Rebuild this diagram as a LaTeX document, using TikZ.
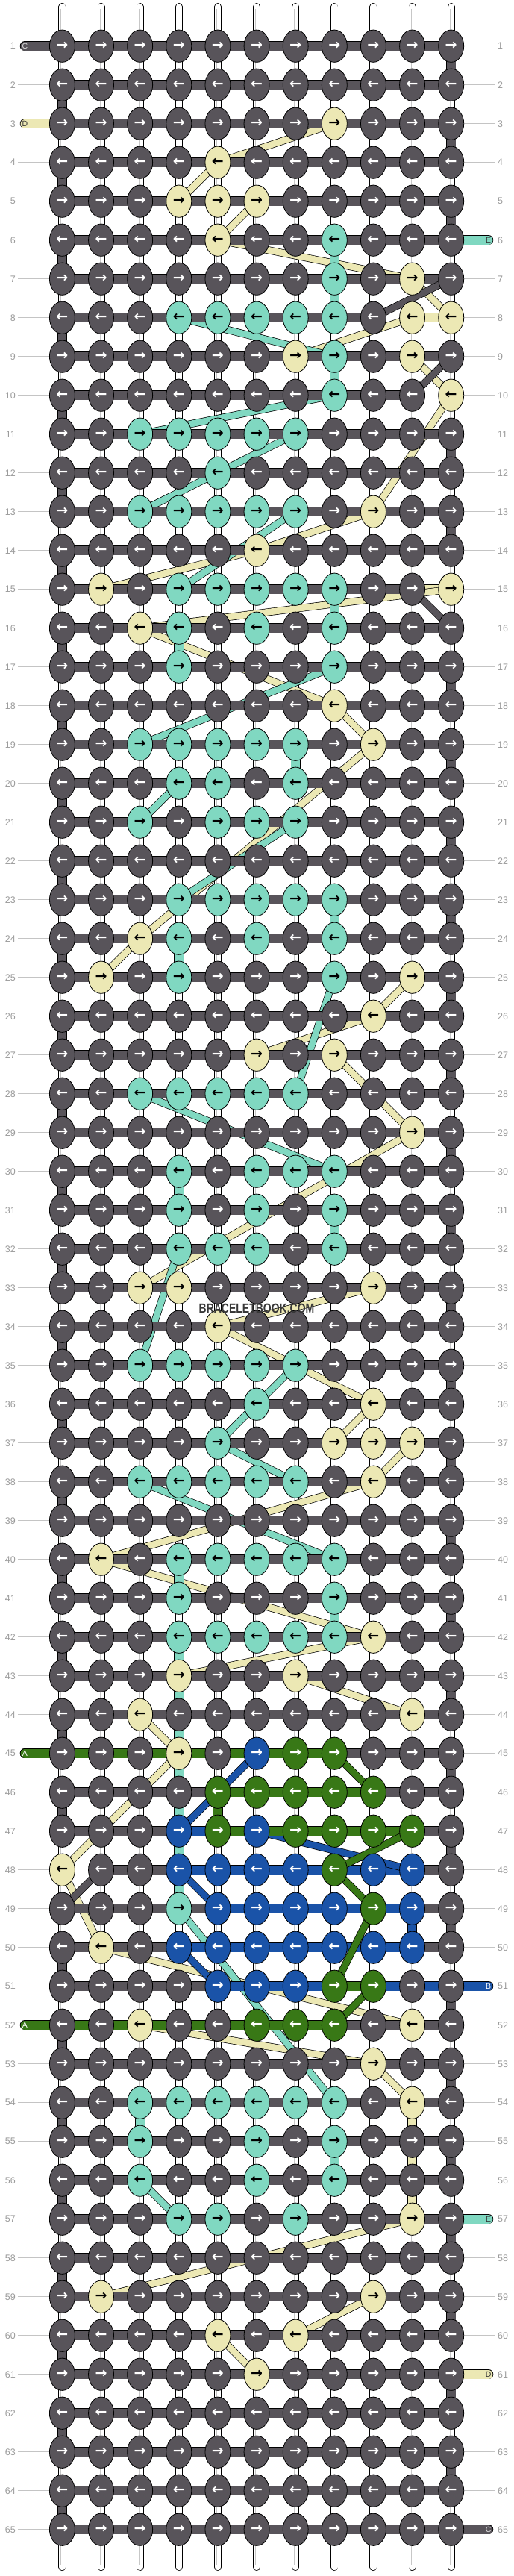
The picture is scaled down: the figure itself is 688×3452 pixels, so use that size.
\documentclass[tikz,border=0pt]{standalone}
\usepackage{fontspec}
\setmainfont{Liberation Sans}
\newfontfamily\arrfont{DejaVu Sans}
\newfontfamily\wmfont{Liberation Sans}[FakeStretch=0.79]
\usetikzlibrary{shapes.geometric}
\definecolor{cG}{HTML}{58545A}
\definecolor{cY}{HTML}{ECE8B4}
\definecolor{cT}{HTML}{80D8C1}
\definecolor{cB}{HTML}{1A53A8}
\definecolor{cN}{HTML}{387816}
\colorlet{aG}{white}
\colorlet{aY}{black}
\colorlet{aT}{black}
\colorlet{aB}{white}
\colorlet{aN}{white}
\definecolor{labgray}{HTML}{9C9C9C}
\definecolor{lingray}{HTML}{C4C4C4}
\definecolor{wmgray}{HTML}{383838}
\pgfdeclarelayer{bgzero}
\pgfdeclarelayer{thrD}
\pgfdeclarelayer{thrE}
\pgfdeclarelayer{thrC}
\pgfdeclarelayer{thrB}
\pgfdeclarelayer{thrA}
\pgfsetlayers{bgzero,thrD,thrE,thrC,thrB,thrA,main}
\tikzset{
  knot/.style={ellipse, draw=black, line width=0.8pt, minimum width=34pt, minimum height=43.3pt, inner sep=0pt, font=\arrfont\bfseries\fontsize{19}{19}\selectfont},
  sthr/.style={draw=black, line width=0.8pt, double=#1, double distance=11.7pt},
  dthr/.style={draw=black, line width=0.7pt, double=#1, double distance=8.6pt},
  stubline/.style={draw=black, line width=0.8pt, double=#1, double distance=11.7pt, line cap=round},
  basestr/.style={draw=black, line width=0.8pt, double=white, double distance=8.4pt, line cap=round},
  innerstr/.style={draw=black!22, line width=0.7pt},
  lab/.style={text=labgray, font=\fontsize{12.5}{12.5}\selectfont, inner sep=0pt},
  labline/.style={draw=lingray, line width=0.9pt},
  stubtxt/.style={font=\fontsize{10.5}{10.5}\selectfont, inner sep=0pt},
  wm/.style={font=\wmfont\bfseries\fontsize{17.7}{17.7}\selectfont, text=wmgray, inner sep=0pt},
}
\begin{document}
\begin{tikzpicture}[x=1pt,y=-1pt]
\useasboundingbox (0,0) rectangle (688,3452);
\begin{pgfonlayer}{bgzero}
\fill[white] (0,0) rectangle (688,3452);
\end{pgfonlayer}
% ---------------- knots and row numbers
\foreach \r/\cl in {
1/{G,G,G,G,G,G,G,G,G,G,G},
2/{G,G,G,G,G,G,G,G,G,G,G},
3/{G,G,G,G,G,G,G,Y,G,G,G},
4/{G,G,G,G,Y,G,G,G,G,G,G},
5/{G,G,G,Y,Y,Y,G,G,G,G,G},
6/{G,G,G,G,Y,G,G,T,G,G,G},
7/{G,G,G,G,G,G,G,T,G,Y,G},
8/{G,G,G,T,T,T,T,T,G,Y,Y},
9/{G,G,G,G,G,G,Y,T,G,Y,G},
10/{G,G,G,G,G,G,G,T,G,G,Y},
11/{G,G,T,T,T,T,T,G,G,G,G},
12/{G,G,G,G,T,G,G,G,G,G,G},
13/{G,G,T,T,T,T,T,G,Y,G,G},
14/{G,G,G,G,G,Y,G,G,G,G,G},
15/{G,Y,G,T,T,T,T,T,G,G,Y},
16/{G,G,Y,T,G,T,G,T,G,G,G},
17/{G,G,G,T,G,G,G,T,G,G,G},
18/{G,G,G,G,G,G,G,Y,G,G,G},
19/{G,G,T,T,T,T,T,G,Y,G,G},
20/{G,G,G,T,T,G,T,G,G,G,G},
21/{G,G,T,G,T,T,T,G,G,G,G},
22/{G,G,G,G,G,G,G,G,G,G,G},
23/{G,G,G,T,T,T,T,T,G,G,G},
24/{G,G,Y,T,G,T,G,T,G,G,G},
25/{G,Y,G,T,G,G,G,T,G,Y,G},
26/{G,G,G,G,G,G,G,G,Y,G,G},
27/{G,G,G,G,G,Y,G,Y,G,G,G},
28/{G,G,T,T,T,T,T,G,G,G,G},
29/{G,G,G,G,G,G,G,G,G,Y,G},
30/{G,G,G,T,G,T,T,T,G,G,G},
31/{G,G,G,T,G,T,G,T,G,G,G},
32/{G,G,G,T,T,T,G,T,G,G,G},
33/{G,G,Y,Y,G,G,G,G,Y,G,G},
34/{G,G,G,G,Y,G,G,G,G,G,G},
35/{G,G,T,T,T,T,T,G,G,G,G},
36/{G,G,G,G,G,T,G,G,Y,G,G},
37/{G,G,G,G,T,G,G,Y,Y,Y,G},
38/{G,G,T,T,T,T,T,G,Y,G,G},
39/{G,G,G,G,G,G,G,G,G,G,G},
40/{G,Y,G,T,T,T,T,T,G,G,G},
41/{G,G,G,T,G,G,G,T,G,G,G},
42/{G,G,G,T,T,T,T,T,Y,G,G},
43/{G,G,G,Y,G,G,Y,G,G,G,G},
44/{G,G,Y,G,G,G,G,G,G,Y,G},
45/{G,G,G,Y,G,B,N,N,G,G,G},
46/{G,G,G,G,N,N,N,N,N,G,G},
47/{G,G,G,B,N,B,N,N,N,N,G},
48/{Y,G,G,B,B,B,B,N,B,B,G},
49/{G,G,G,T,B,B,B,B,N,B,G},
50/{G,Y,G,B,B,B,B,B,B,B,G},
51/{G,G,G,G,B,B,B,N,N,G,G},
52/{G,G,Y,G,G,N,N,N,G,Y,G},
53/{G,G,G,G,G,G,G,G,Y,G,G},
54/{G,G,T,T,T,T,T,T,G,Y,G},
55/{G,G,T,G,G,T,G,T,G,G,G},
56/{G,G,T,G,G,T,G,T,G,G,G},
57/{G,G,G,T,T,G,T,G,G,Y,G},
58/{G,G,G,G,G,G,G,G,G,G,G},
59/{G,Y,G,G,G,G,G,G,Y,G,G},
60/{G,G,G,G,Y,G,Y,G,G,G,G},
61/{G,G,G,G,G,Y,G,G,G,G,G},
62/{G,G,G,G,G,G,G,G,G,G,G},
63/{G,G,G,G,G,G,G,G,G,G,G},
64/{G,G,G,G,G,G,G,G,G,G,G},
65/{G,G,G,G,G,G,G,G,G,G,G}}{
  \pgfmathsetmacro\yy{61.7+52*(\r-1)}
  \foreach \cc [count=\i] in \cl {
    \pgfmathsetmacro\xx{83.4+52.13*(\i-1)}
    \node[knot, fill=c\cc, text=a\cc] (k-\r-\i) at (\xx,\yy) {\ifodd\r\relax →\else ←\fi};
  }
  \node[lab, anchor=east] (ln-\r) at (21,\yy) {\r};
  \node[lab, anchor=west] (rn-\r) at (667,\yy) {\r};
  \coordinate (ll-\r) at (24,\yy);
  \coordinate (rl-\r) at (664,\yy);
}
% ---------------- stub ends
\coordinate (sC1) at (33.4,61.7);
\coordinate (sD3) at (33.4,165.7);
\coordinate (sA45) at (33.4,2349.7);
\coordinate (sB45) at (33.4,2349.7);
\coordinate (sA52) at (33.4,2713.7);
\coordinate (sE6) at (654.6,321.7);
\coordinate (sB51) at (654.6,2661.7);
\coordinate (sE57) at (654.6,2973.7);
\coordinate (sD61) at (654.6,3181.7);
\coordinate (sC65) at (654.6,3389.7);
% ---------------- base strings and row lines
\begin{pgfonlayer}{bgzero}
\foreach \i in {1,...,11}{
  \pgfmathsetmacro\xx{83.4+52.13*(\i-1)}
  \coordinate (t-\i) at (\xx,9);
  \coordinate (b-\i) at (\xx,3440);
  \draw[basestr] (t-\i) -- (b-\i);
  \draw[innerstr] ([xshift=-1.6pt,yshift=-3pt]t-\i) -- ([xshift=-1.6pt,yshift=3pt]b-\i);
}
\foreach \r in {2,4,5,...,44,46,47,...,51,53,54,...,65}
  \draw[labline] (ll-\r) -- (k-\r-1);
\foreach \r in {1,...,5,7,8,...,50,52,53,...,56,58,59,60,62,63,64}
  \draw[labline] (k-\r-11) -- (rl-\r);
\end{pgfonlayer}
% ---------------- thread D (yellow)
\begin{pgfonlayer}{thrD}
\draw[stubline=cY] (sD3) -- (k-3-8.center);
\draw[stubline=cY] (k-61-6.center) -- (sD61);
\foreach \a/\b in {5-4/5-6, 8-11/8-10, 9-7/9-10, 15-2/15-11, 25-2/25-10, 27-6/27-8, 33-3/33-9, 37-8/37-10, 43-4/43-7, 44-10/44-3, 52-10/52-3, 54-10/57-10, 59-2/59-9, 60-7/60-5}
  \draw[sthr=cY] (k-\a.center) -- (k-\b.center);
\foreach \a/\b in {3-8/4-5, 4-5/5-4, 5-6/6-5, 6-5/7-10, 7-10/8-11, 8-10/9-7, 9-10/10-11, 10-11/13-9, 13-9/14-6, 14-6/15-2, 15-11/16-3, 16-3/18-8, 18-8/19-9, 19-9/24-3, 24-3/25-2, 25-10/26-9, 26-9/27-6, 27-8/29-10, 29-10/33-3, 33-9/34-5, 34-5/36-9, 36-9/37-8, 37-10/38-9, 38-9/40-2, 40-2/42-9, 42-9/43-4, 43-7/44-10, 44-3/45-4, 45-4/48-1, 48-1/50-2, 50-2/52-10, 52-3/53-9, 53-9/54-10, 57-10/59-2, 59-9/60-7, 60-5/61-6}
  \draw[dthr=cY] (k-\a.center) -- (k-\b.center);
\end{pgfonlayer}
% ---------------- thread E (teal)
\begin{pgfonlayer}{thrE}
\draw[stubline=cT] (sE6) -- (k-6-8.center);
\draw[stubline=cT] (k-57-7.center) -- (sE57);
\foreach \a/\b in {6-8/7-8, 7-8/8-8, 8-8/8-4, 9-8/10-8, 11-3/11-7, 13-3/13-7, 15-4/15-8, 15-8/16-8, 16-8/16-4, 16-4/17-4, 17-4/17-8, 19-3/19-7, 19-7/20-7, 20-7/20-4, 21-3/21-7, 23-4/23-8, 23-8/24-8, 24-8/24-4, 24-4/25-4, 25-4/25-8, 28-7/28-3, 30-8/30-4, 30-4/31-4, 31-4/31-8, 31-8/32-8, 32-8/32-4, 35-3/35-7, 38-7/38-3, 40-8/40-4, 40-4/41-4, 41-4/41-8, 41-8/42-8, 42-8/42-4, 42-4/49-4, 54-8/54-3, 54-3/55-3, 55-3/55-8, 55-8/56-8, 56-8/56-3, 57-4/57-7}
  \draw[sthr=cT] (k-\a.center) -- (k-\b.center);
\foreach \a/\b in {8-4/9-8, 10-8/11-3, 11-7/12-5, 12-5/13-3, 13-7/15-4, 17-8/19-3, 20-4/21-3, 21-7/23-4, 25-8/28-7, 28-3/30-8, 32-4/35-3, 35-7/36-6, 36-6/37-5, 37-5/38-7, 38-3/40-8, 49-4/54-8, 56-3/57-4}
  \draw[dthr=cT] (k-\a.center) -- (k-\b.center);
\end{pgfonlayer}
% ---------------- thread C (dark)
\begin{pgfonlayer}{thrC}
\draw[stubline=cG] (sC1) -- (k-1-1.center);
\draw[stubline=cG] (k-65-11.center) -- (sC65);
\foreach \r in {1,...,7,9,11,12,13,14,16,17,...,47,49,50,...,65}
  \draw[sthr=cG] (k-\r-1.center) -- (k-\r-11.center);
\foreach \a/\b in {8-1/8-9, 10-1/10-10, 15-1/15-10, 48-2/48-11}
  \draw[sthr=cG] (k-\a.center) -- (k-\b.center);
\foreach \r [evaluate=\r as \rn using int(\r+1)] in {1,3,5,11,13,17,19,...,63}
  \draw[sthr=cG] (k-\r-11.center) -- (k-\rn-11.center);
\foreach \r [evaluate=\r as \rn using int(\r+1)] in {2,4,...,46,50,52,...,64}
  \draw[sthr=cG] (k-\r-1.center) -- (k-\rn-1.center);
\foreach \a/\b in {7-11/8-9, 9-11/10-10, 15-10/16-11, 48-2/49-1}
  \draw[dthr=cG] (k-\a.center) -- (k-\b.center);
\end{pgfonlayer}
% ---------------- thread B (blue)
\begin{pgfonlayer}{thrB}
\draw[stubline=cB] (sB45) -- (k-45-6.center);
\draw[stubline=cB] (k-51-5.center) -- (sB51);
\foreach \a/\b in {47-4/47-6, 48-10/48-4, 49-5/49-10, 49-10/50-10, 50-10/50-4}
  \draw[sthr=cB] (k-\a.center) -- (k-\b.center);
\foreach \a/\b in {45-6/47-4, 47-6/48-10, 48-4/49-5, 50-4/51-5}
  \draw[dthr=cB] (k-\a.center) -- (k-\b.center);
\end{pgfonlayer}
% ---------------- thread A (green)
\begin{pgfonlayer}{thrA}
\draw[stubline=cN] (sA45) -- (k-45-7.center);
\draw[stubline=cN] (k-52-6.center) -- (sA52);
\foreach \a/\b in {45-7/45-8, 46-9/46-5, 46-5/47-5, 47-5/47-10, 51-8/51-9, 52-8/52-6}
  \draw[sthr=cN] (k-\a.center) -- (k-\b.center);
\foreach \a/\b in {45-8/46-9, 47-10/48-8, 48-8/49-9, 49-9/51-8, 51-9/52-8}
  \draw[dthr=cN] (k-\a.center) -- (k-\b.center);
\end{pgfonlayer}
% ---------------- stub letters
\node[stubtxt, text=black!12] (lC1) at (sC1) {C};
\node[stubtxt, text=black!80] (lD3) at (sD3) {D};
\node[stubtxt, text=white] (lA45) at (sA45) {A};
\node[stubtxt, text=white] (lA52) at (sA52) {A};
\node[stubtxt, text=black!80] (lE6) at (sE6) {E};
\node[stubtxt, text=white] (lB51) at (sB51) {B};
\node[stubtxt, text=black!80] (lE57) at (sE57) {E};
\node[stubtxt, text=black!80] (lD61) at (sD61) {D};
\node[stubtxt, text=black!12] (lC65) at (sC65) {C};
% ---------------- watermark
\node[wm] (wm) at (344,1753) {BRACELETBOOK.COM};
\end{tikzpicture}
\end{document}
